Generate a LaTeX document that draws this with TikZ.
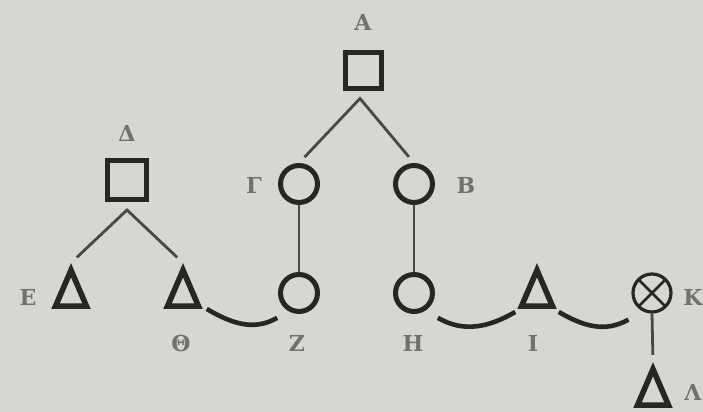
\documentclass[tikz,border=0pt]{standalone}
\usepackage{fontspec}
\setmainfont{DejaVu Serif}
\usetikzlibrary{shapes.geometric}
\definecolor{paper}{RGB}{215,214,208}
\definecolor{ink}{RGB}{38,38,36}
\definecolor{pencil}{RGB}{72,72,70}
\definecolor{letter}{RGB}{112,112,108}
\tikzset{
  sq/.style={draw=ink,line width=2.5pt,rectangle,minimum size=18pt,inner sep=0pt},
  ci/.style={draw=ink,line width=2.5pt,circle,minimum size=18.5pt,inner sep=0pt},
  tri/.style={draw=ink,line width=2.8pt,isosceles triangle,shape border rotate=90,
    isosceles triangle stretches,minimum width=15.5pt,minimum height=18pt,inner sep=0pt},
  cx/.style={draw=ink,line width=1.6pt,circle,minimum size=19pt,inner sep=0pt,
    path picture={\draw[ink,line width=1.3pt]
      (path picture bounding box.north west)--(path picture bounding box.south east)
      (path picture bounding box.north east)--(path picture bounding box.south west);}},
  lbl/.style={text=letter,font=\bfseries\fontsize{11}{11}\selectfont,inner sep=0pt},
  link/.style={draw=pencil,line width=1.4pt},
  tie/.style={draw=ink,line width=2.3pt},
}
\begin{document}
\begin{tikzpicture}[x=0.5pt,y=0.5pt]
\fill[paper](0,0)rectangle(703,412);
\useasboundingbox(0,0)rectangle(703,412);
% first generation
\node[sq](A)at(363,341){};
\node[sq,minimum size=19.5pt](D)at(127,232){};
\node[ci](G)at(299,228){};
\node[ci](B)at(414,228){};
% second generation
\node[tri](E)at(71,116){};
\node[tri](Th)at(183,116){};
\node[ci](Z)at(299,119){};
\node[ci](H)at(414,119){};
\node[tri](I)at(537,116){};
\node[cx](K)at(652,119){};
\node[tri](L)at(653,17){};
% letters
\node[lbl](lA)at(363,390){Α};
\node[lbl](lD)at(127,279){Δ};
\node[lbl](lG)at(254,227){Γ};
\node[lbl](lB)at(466,227){Β};
\node[lbl](lE)at(28,115){Ε};
\node[lbl](lTh)at(181,69){Θ};
\node[lbl](lZ)at(297,69){Ζ};
\node[lbl](lH)at(413,69){Η};
\node[lbl](lI)at(533,69){Ι};
\node[lbl](lK)at(693,115){Κ};
\node[lbl](lL)at(693,20){Λ};
% descent
\draw[link,shorten <=4pt,shorten >=4pt](G.north)--([shift={(-1.5pt,-3.5pt)}]A.south)--(B.north);
\draw[link,shorten <=4pt,shorten >=4pt](E.apex)--([yshift=-4pt]D.south)--(Th.apex);
\draw[link](G.south)--(Z.north);
\draw[link](B.south)--(H.north);
\draw[link,shorten >=3.5pt](K.south)--(L.apex);
% ties
\draw[tie]([xshift=2pt]Th.right corner)to[out=-30,in=-150]([shift={(-3.5pt,-5pt)}]Z.south west);
\draw[tie]([shift={(4.5pt,-5pt)}]H.south east)to[out=-30,in=-150]([shift={(-1pt,-1.5pt)}]I.left corner);
\draw[tie]([shift={(1pt,-1.5pt)}]I.right corner)to[out=-30,in=-150]([shift={(-4.5pt,-6pt)}]K.south west);
\end{tikzpicture}
\end{document}
